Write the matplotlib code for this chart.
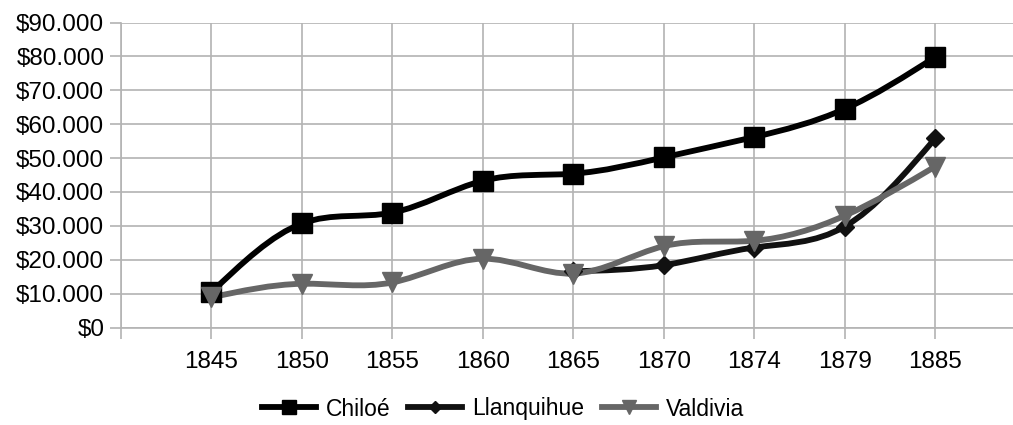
import numpy as np
import matplotlib
matplotlib.use("Agg")
import matplotlib.pyplot as plt
from matplotlib.path import Path
from matplotlib.patches import PathPatch
from matplotlib.lines import Line2D
from matplotlib.ticker import FuncFormatter

plt.rcParams['font.family'] = ['Liberation Sans', 'DejaVu Sans']

categories = ["", "1845", "1850", "1855", "1860", "1865", "1870", "1874", "1879", "1885"]
chiloe = [None, 10400, 30700, 33900, 43300, 45400, 50200, 56200, 64500, 79800]
llanquihue = [None, None, None, None, None, 16600, 18400, 23600, 29800, 55800]
valdivia = [None, 8900, 12900, 13300, 20300, 15900, 24000, 25600, 33000, 47500]

series = [
    ("Chiloé", chiloe, "#000000", "s", 14, 4.2),
    ("Llanquihue", llanquihue, "#111111", "D", 9.5, 4.2),
    ("Valdivia", valdivia, "#666666", "v", 14, 4.2),
]


def spline_path(xs, ys):
    xs = np.asarray(xs, float)
    ys = np.asarray(ys, float)
    n = len(xs)
    A = np.zeros((n, n))
    b = np.zeros(n)
    A[0, 0], A[0, 1] = 2, 1
    b[0] = 3 * (ys[1] - ys[0])
    A[-1, -2], A[-1, -1] = 1, 2
    b[-1] = 3 * (ys[-1] - ys[-2])
    for i in range(1, n - 1):
        A[i, i - 1], A[i, i], A[i, i + 1] = 1, 4, 1
        b[i] = 3 * (ys[i + 1] - ys[i - 1])
    m = np.linalg.solve(A, b)
    verts = [(xs[0], ys[0])]
    codes = [Path.MOVETO]
    for i in range(n - 1):
        h = xs[i + 1] - xs[i]
        verts += [(xs[i] + h / 3, ys[i] + m[i] / 3),
                  (xs[i + 1] - h / 3, ys[i + 1] - m[i + 1] / 3),
                  (xs[i + 1], ys[i + 1])]
        codes += [Path.CURVE4] * 3
    return Path(verts, codes)


fig = plt.figure(figsize=(10.13, 4.25), dpi=100)
ax = fig.add_axes([121 / 1013, 97.5 / 425, 1 - 121 / 1013, 305 / 425])

grid_c = "#b3b3b3"
positions = np.arange(len(categories))
handles = []
for name, vals, color, mk, ms, lw in series:
    xs = [p for p, v in zip(positions, vals) if v is not None]
    ys = [v for v in vals if v is not None]
    patch = PathPatch(spline_path(xs, ys), facecolor="none", edgecolor=color,
                      lw=lw, capstyle="round", joinstyle="round", zorder=3)
    ax.add_patch(patch)
    ax.plot(xs, ys, linestyle="none", marker=mk, markersize=ms, color=color, zorder=4)
    handles.append(Line2D([], [], color=color, lw=lw, marker=mk,
                          markersize=ms * 0.68, label=name))

ax.set_xlim(0, 9.86)
ax.set_ylim(0, 90000)
ax.set_xticks(positions)
ax.set_xticklabels(categories)
ax.set_yticks(np.arange(0, 90001, 10000))
ax.yaxis.set_major_formatter(FuncFormatter(
    lambda v, p: "$0" if v == 0 else "${:,.0f}".format(v).replace(",", ".")))
ax.grid(True, color=grid_c, lw=1.2, zorder=0)
ax.set_axisbelow(True)
for s in ["top", "right"]:
    ax.spines[s].set_visible(False)
for s in ["left", "bottom"]:
    ax.spines[s].set_color(grid_c)
    ax.spines[s].set_linewidth(1.2)
ax.tick_params(axis="both", direction="out", length=8, width=1.2, color=grid_c,
               labelsize=17.5, labelcolor="#000000", pad=4)
ax.tick_params(axis="x", pad=9)

fig.legend(handles=handles, loc="center", bbox_to_anchor=(503 / 1013, 1 - 409 / 425),
           ncol=3, frameon=False, fontsize=16.5, handlelength=2.35,
           handletextpad=0.42, columnspacing=0.8, borderaxespad=0)

fig.savefig("out.png", dpi=100)
